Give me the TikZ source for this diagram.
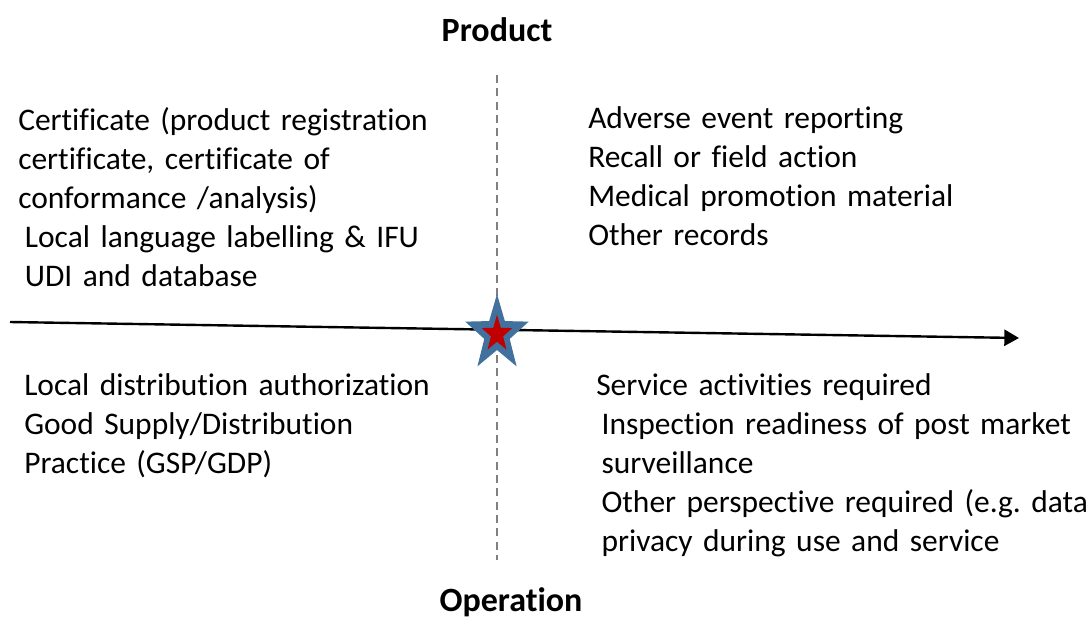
\documentclass[tikz,border=0pt]{standalone}
\usepackage{fontspec}
\setmainfont{Carlito}[Ligatures=NoCommon]
\usetikzlibrary{positioning}
\usetikzlibrary{shapes.geometric}
\usetikzlibrary{arrows.meta}
\definecolor{starblue}{HTML}{41719C}
\definecolor{starred}{HTML}{C00000}
\frenchspacing

\begin{document}
\begin{tikzpicture}[x=0.75pt, y=-0.75pt,
	item/.style={anchor=base west, inner sep=0pt, text width=40em, align=left, font=\fontsize{23.6}{29.25}\selectfont},
	heading/.style={inner sep=0pt, font=\fontsize{25.5}{30}\selectfont\bfseries},
	starmark/.style={star, star points=5, star point ratio=2.5, inner sep=0pt, transform shape}]
		\useasboundingbox (0,0) rectangle (1091,632);
		\node [heading] at (497,30) (product) {Product};
		\node [heading] at (511,602) (operation) {Operation};
		\coordinate (axisleft) at (10,322);
		\coordinate (axisright) at (1019,338);
		\coordinate (dashtop) at (497,75);
		\coordinate (dashbottom) at (497,560);
		\draw [gray, dash pattern=on 6pt off 4pt, line width=1pt] (dashtop) -- (dashbottom);
		\draw [-{Triangle[length=11pt, width=12pt]}, line width=1.8pt] (axisleft) -- (axisright);
		\begin{scope}[shift={(497,334)}, yscale=1.2]
			\node [starmark, minimum size=50pt, fill=starblue] at (0,0) (origin) {};
			\node [starmark, minimum size=24pt, fill=starred] at (origin) (origincore) {};
		\end{scope}

		\node [item] at (18,130) (certs) {Certificate (product registration\\certificate, certificate of\\conformance /analysis)\\\hspace*{5pt}Local language labelling \& IFU\\\hspace*{5pt}UDI and database};
		\node [item] at (588,128) (postmarket) {Adverse event reporting\\Recall or field action\\Medical promotion material\\Other records};
		\node [item] at (24,395) (distribution) {Local distribution authorization\\Good Supply/Distribution\\Practice (GSP/GDP)};
		\node [item] at (596,395) (service) {Service activities required\\\hspace*{4pt}Inspection readiness of post market\\\hspace*{4pt}surveillance\\\hspace*{4pt}Other perspective required (e.g. data\\\hspace*{4pt}privacy during use and service};
\end{tikzpicture}
\end{document}
